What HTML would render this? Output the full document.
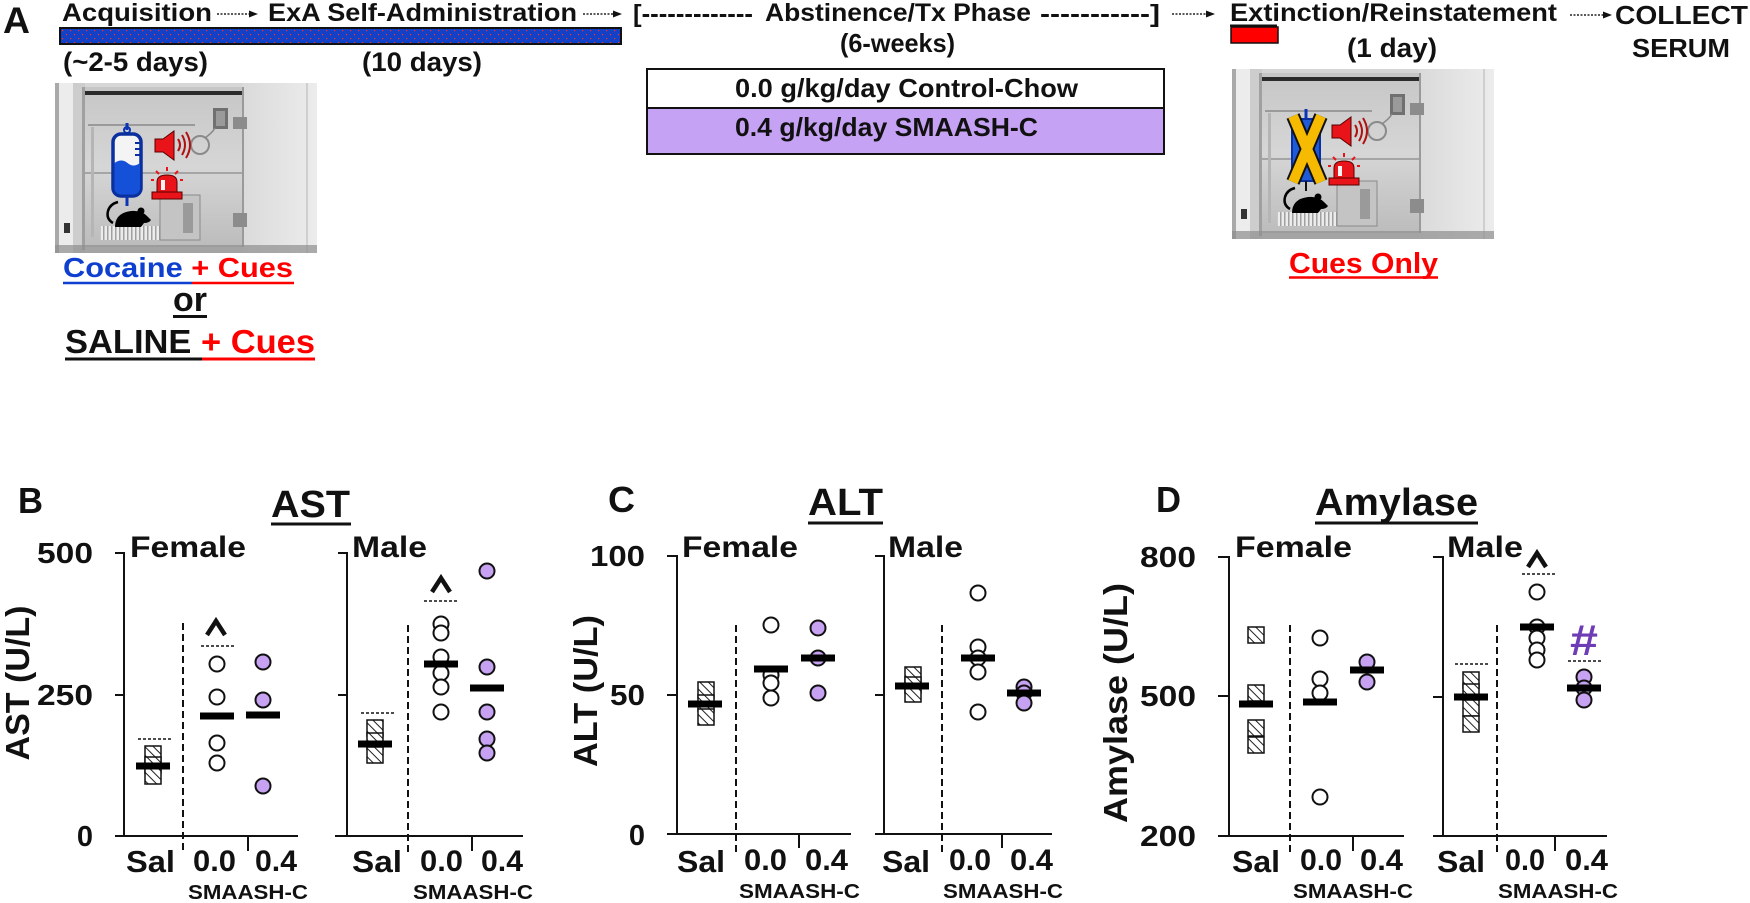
<!DOCTYPE html>
<html><head><meta charset="utf-8">
<style>
html,body{margin:0;padding:0;background:#fff;}
svg{display:block;}
text{font-family:"Liberation Sans",Arial,sans-serif;font-weight:bold;fill:#111;}
.ax{stroke:#111;stroke-width:2;fill:none}
.dv{stroke:#111;stroke-width:2;stroke-dasharray:7,4;fill:none}
.ds{stroke:#111;stroke-width:1.4;stroke-dasharray:3,2;fill:none}
.o{fill:#fff;stroke:#111;stroke-width:2}
.p{fill:#c8a2f2;stroke:#111;stroke-width:2}
.sq{fill:url(#hatch);stroke:#111;stroke-width:1.5}
.car{fill:none;stroke:#111;stroke-width:4.5;stroke-linejoin:miter}
</style></head><body>
<svg width="1750" height="903" viewBox="0 0 1750 903" xmlns="http://www.w3.org/2000/svg">
<defs>
<pattern id="dots" width="8" height="8" patternUnits="userSpaceOnUse">
<rect width="8" height="8" fill="#1440c6"/>
<rect x="2" y="2" width="1.2" height="1.2" fill="#ff3030"/>
<rect x="6" y="6" width="1.2" height="1.2" fill="#ff3030"/>
</pattern>
<pattern id="hatch" width="6" height="6" patternUnits="userSpaceOnUse" patternTransform="rotate(-45)">
<rect width="6" height="6" fill="#fff"/>
<line x1="0" y1="0" x2="0" y2="6" stroke="#222" stroke-width="2"/>
</pattern>
<pattern id="grid" width="4" height="14" patternUnits="userSpaceOnUse">
<rect width="4" height="14" fill="#ececec"/>
<rect width="1.5" height="14" fill="#a0a0a0"/>
</pattern>
<linearGradient id="intg" x1="0" y1="0" x2="0" y2="1">
<stop offset="0" stop-color="#c6c6c6"/>
<stop offset="0.5" stop-color="#d6d6d6"/>
<stop offset="1" stop-color="#bcbcbc"/>
</linearGradient>
<linearGradient id="doorg" x1="0" y1="0" x2="1" y2="0">
<stop offset="0" stop-color="#dadada"/>
<stop offset="1" stop-color="#ececec"/>
</linearGradient>
<g id="photo">
<rect x="0" y="0" width="262" height="170" fill="#d6d6d6"/>
<rect x="0" y="0" width="4" height="170" fill="#a9a9a9"/>
<rect x="4" y="0" width="14" height="170" fill="#ececec"/>
<rect x="18" y="0" width="12" height="170" fill="#cdcdcd"/>
<rect x="27" y="4" width="3" height="163" fill="#a0a0a0"/>
<rect x="30" y="4" width="157" height="160" fill="url(#intg)"/>
<rect x="30" y="8" width="157" height="4" fill="#2b2b2b"/>
<rect x="187" y="0" width="75" height="170" fill="url(#doorg)"/>
<rect x="187" y="4" width="2" height="160" fill="#9a9a9a"/>
<rect x="251" y="0" width="2" height="170" fill="#cfcfcf"/>
<rect x="30" y="89" width="157" height="2" fill="#a5a5a5"/>
<line x1="33" y1="42" x2="140" y2="42" stroke="#9a9a9a" stroke-width="2"/>
<rect x="36" y="44" width="3" height="110" fill="#b5b5b5"/>
<rect x="45" y="143" width="80" height="14" fill="url(#grid)"/>
<rect x="105" y="112" width="40" height="45" fill="#c4c4c4" stroke="#8a8a8a"/>
<rect x="128" y="120" width="10" height="30" fill="#9a9a9a"/>
<rect x="158" y="25" width="15" height="21" fill="#707070"/>
<rect x="161" y="28" width="9" height="15" fill="#9a9a9a"/>
<rect x="178" y="34" width="14" height="12" fill="#8c8c8c"/>
<rect x="178" y="130" width="14" height="14" fill="#8c8c8c"/>
<circle cx="145" cy="62" r="9" fill="none" stroke="#8a8a8a" stroke-width="2"/>
<path d="M150,55 q8,-6 10,-10" stroke="#8a8a8a" stroke-width="1.5" fill="none"/>
<rect x="9" y="140" width="6" height="10" fill="#333"/>
<rect x="0" y="162" width="262" height="8" fill="#8f8f8f" opacity="0.7"/>
<path d="M100,56 h8 l11,-8 v29 l-11,-8 h-8 z" fill="#e8141a" stroke="#5a0000" stroke-width="1"/>
<path d="M123,56 q4,6 0,12 M127,52 q6,10 0,20 M131,49 q8,13 0,26" stroke="#b01010" stroke-width="2" fill="none"/>
<rect x="97" y="109" width="30" height="7" fill="#e8141a" stroke="#5a0000"/>
<path d="M102,109 v-10 q0,-7 10,-7 q10,0 10,7 v10 z" fill="#e8141a" stroke="#5a0000"/>
<rect x="106" y="97" width="4" height="10" fill="#f4f4f4"/>
<path d="M112,84 v4 M101,88 l3,3 M123,88 l-3,3 M96,97 h3 M128,97 h-3" stroke="#e8141a" stroke-width="2"/>
<path d="M58,140 q-7,-4 -5,-12 q2,-7 10,-9" stroke="#000" stroke-width="2.5" fill="none"/>
<path d="M60,144 q0,-14 16,-16 q10,-1 16,5 l4,4 q-2,3 -7,3 l-3,4 h-26 z" fill="#000"/>
<circle cx="86" cy="128" r="3.5" fill="#000"/>
</g>
</defs>

<!-- ===== Panel A ===== -->
<text x="3" y="33" font-size="37" textLength="27" lengthAdjust="spacingAndGlyphs">A</text>
<text x="62" y="21" font-size="25" textLength="150" lengthAdjust="spacingAndGlyphs">Acquisition</text>
<line x1="217" y1="14" x2="250" y2="14" stroke="#222" stroke-width="1.5" stroke-dasharray="2,1.5"/>
<polygon points="249,10.5 258,14 249,17.5" fill="#111"/>
<text x="268" y="21" font-size="25" textLength="309" lengthAdjust="spacingAndGlyphs">ExA Self-Administration</text>
<line x1="583" y1="14" x2="614" y2="14" stroke="#222" stroke-width="1.5" stroke-dasharray="2,1.5"/>
<polygon points="613,10.5 622,14 613,17.5" fill="#111"/>
<rect x="60" y="28" width="561" height="16" fill="url(#dots)" stroke="#111" stroke-width="2"/>
<text x="63" y="71" font-size="27" textLength="145" lengthAdjust="spacingAndGlyphs">(~2-5 days)</text>
<text x="362" y="71" font-size="27" textLength="120" lengthAdjust="spacingAndGlyphs">(10 days)</text>

<text x="633" y="22" font-size="25" textLength="120" lengthAdjust="spacingAndGlyphs">[-------------</text>
<text x="765" y="21" font-size="25" textLength="266" lengthAdjust="spacingAndGlyphs">Abstinence/Tx Phase</text>
<text x="1040" y="22" font-size="25" textLength="120" lengthAdjust="spacingAndGlyphs">-----------]</text>
<text x="840" y="52" font-size="26" textLength="115" lengthAdjust="spacingAndGlyphs">(6-weeks)</text>
<rect x="647" y="69" width="517" height="39" fill="#fff" stroke="#111" stroke-width="2"/>
<rect x="647" y="108" width="517" height="46" fill="#c6a2f4" stroke="#111" stroke-width="2"/>
<text x="735" y="97" font-size="26" textLength="343" lengthAdjust="spacingAndGlyphs">0.0 g/kg/day Control-Chow</text>
<text x="735" y="136" font-size="26" textLength="303" lengthAdjust="spacingAndGlyphs">0.4 g/kg/day SMAASH-C</text>

<line x1="1172" y1="14" x2="1207" y2="14" stroke="#222" stroke-width="1.5" stroke-dasharray="2,1.5"/>
<polygon points="1206,10.5 1215,14 1206,17.5" fill="#111"/>
<text x="1230" y="21" font-size="25" textLength="327" lengthAdjust="spacingAndGlyphs">Extinction/Reinstatement</text>
<line x1="1230" y1="25.5" x2="1277" y2="25.5" stroke="#111" stroke-width="2"/>
<rect x="1231" y="27" width="47" height="16" fill="#f00" stroke="#111" stroke-width="1.5"/>
<text x="1347" y="57" font-size="27" textLength="90" lengthAdjust="spacingAndGlyphs">(1 day)</text>
<line x1="1570" y1="15" x2="1604" y2="15" stroke="#222" stroke-width="1.5" stroke-dasharray="2,1.5"/>
<polygon points="1603,11.5 1612,15 1603,18.5" fill="#111"/>
<text x="1615" y="24" font-size="26" textLength="133" lengthAdjust="spacingAndGlyphs">COLLECT</text>
<text x="1632" y="57" font-size="26" textLength="98" lengthAdjust="spacingAndGlyphs">SERUM</text>

<!-- photo 1 -->
<g transform="translate(55,83)">
<use href="#photo"/>
<line x1="72" y1="40" x2="72" y2="47" stroke="#0b35b5" stroke-width="3"/>
<circle cx="72" cy="47" r="3" fill="none" stroke="#0b35b5" stroke-width="2"/>
<rect x="58" y="51" width="28" height="62" rx="8" fill="#f4f4f4" stroke="#0a2f9e" stroke-width="3.5"/>
<path d="M59.5,80 q7,-5 13,0 t12.5,0 v24 q0,7.5 -7.5,7.5 h-10.5 q-7.5,0 -7.5,-7.5 z" fill="#1550d8"/>
<path d="M80,60h6M80,66h6M80,72h6" stroke="#0a2f9e" stroke-width="2"/>
<line x1="72" y1="113" x2="72" y2="123" stroke="#0b35b5" stroke-width="3"/>
</g>
<text x="63" y="277" font-size="28" textLength="230" lengthAdjust="spacingAndGlyphs"><tspan fill="#0f3fcf">Cocaine</tspan><tspan fill="#f00"> + Cues</tspan></text>
<line x1="63" y1="283" x2="192" y2="283" stroke="#0f3fcf" stroke-width="2.5"/>
<line x1="192" y1="283" x2="294" y2="283" stroke="#f00" stroke-width="2.5"/>
<text x="173" y="311" font-size="34" textLength="34" lengthAdjust="spacingAndGlyphs">or</text>
<line x1="173" y1="316.5" x2="207" y2="316.5" stroke="#111" stroke-width="3"/>
<text x="65" y="353" font-size="33" textLength="250" lengthAdjust="spacingAndGlyphs"><tspan fill="#111">SALINE</tspan><tspan fill="#f00"> + Cues</tspan></text>
<line x1="65" y1="359" x2="202" y2="359" stroke="#111" stroke-width="3"/>
<line x1="202" y1="359" x2="315" y2="359" stroke="#f00" stroke-width="3"/>

<!-- photo 2 -->
<g transform="translate(1232,69)">
<use href="#photo"/>
<line x1="74" y1="40" x2="74" y2="50" stroke="#0b35b5" stroke-width="3"/>
<rect x="60" y="50" width="28" height="62" rx="6" fill="#1f5ad8" stroke="#0a2f9e" stroke-width="2"/>
<line x1="74" y1="112" x2="74" y2="122" stroke="#111" stroke-width="2"/>
<path d="M61,47 L89,113 M89,47 L61,113" stroke="#111" stroke-width="14"/>
<path d="M61,47 L89,113 M89,47 L61,113" stroke="#f6bb00" stroke-width="10"/>
</g>
<text x="1289" y="273" font-size="29" textLength="149" lengthAdjust="spacingAndGlyphs" style="fill:#f00">Cues Only</text>
<line x1="1289" y1="277.5" x2="1438" y2="277.5" stroke="#f00" stroke-width="2.5"/>

<!-- ===== Panel B : AST ===== -->
<text x="18" y="513" font-size="36" textLength="25" lengthAdjust="spacingAndGlyphs">B</text>
<text x="271" y="517" font-size="38" textLength="79" lengthAdjust="spacingAndGlyphs">AST</text>
<line x1="271" y1="524" x2="351" y2="524" stroke="#111" stroke-width="3"/>
<text x="130" y="557" font-size="30" textLength="116" lengthAdjust="spacingAndGlyphs">Female</text>
<text x="352" y="557" font-size="30" textLength="75" lengthAdjust="spacingAndGlyphs">Male</text>
<text transform="translate(29,683) rotate(-90)" text-anchor="middle" font-size="33" textLength="155" lengthAdjust="spacingAndGlyphs">AST (U/L)</text>
<text x="93" y="563" font-size="29" text-anchor="end" textLength="56" lengthAdjust="spacingAndGlyphs">500</text>
<text x="93" y="705" font-size="29" text-anchor="end" textLength="56" lengthAdjust="spacingAndGlyphs">250</text>
<text x="93" y="846" font-size="29" text-anchor="end">0</text>
<path class="ax" d="M115,553 H124 V836 M115,695 H124 M115,836 H298 M248,836 V851"/>
<line class="dv" x1="183" y1="623" x2="183" y2="853"/>
<path class="ax" d="M338,553 H347 V836 M338,695 H347 M335,836 H523 M472,836 V851"/>
<line class="dv" x1="408" y1="625" x2="408" y2="853"/>
<!-- female B -->
<rect class="sq" x="145" y="746" width="16" height="16"/>
<rect class="sq" x="145" y="757" width="16" height="16"/>
<rect class="sq" x="145" y="768" width="16" height="16"/>
<rect x="136" y="762.5" width="34" height="7"/>
<line class="ds" x1="138" y1="739" x2="172" y2="739"/>
<circle class="o" cx="217" cy="664" r="7.5"/><circle class="o" cx="217" cy="697" r="7.5"/><circle class="o" cx="217" cy="743" r="7.5"/><circle class="o" cx="217" cy="763" r="7.5"/>
<rect x="200" y="712.5" width="34" height="7"/>
<line class="ds" x1="201" y1="646" x2="234" y2="646"/>
<polyline class="car" points="207,635 216,621 225,635"/>
<circle class="p" cx="263" cy="662" r="7.5"/><circle class="p" cx="263" cy="700" r="7.5"/><circle class="p" cx="263" cy="786" r="7.5"/>
<rect x="246" y="711.5" width="34" height="7"/>
<!-- male B -->
<rect class="sq" x="367" y="720" width="16" height="16"/>
<rect class="sq" x="367" y="733" width="16" height="16"/>
<rect class="sq" x="367" y="747" width="16" height="16"/>
<rect x="358" y="740.5" width="34" height="7"/>
<line class="ds" x1="361" y1="713" x2="394" y2="713"/>
<circle class="o" cx="441" cy="624" r="7.5"/><circle class="o" cx="441" cy="633" r="7.5"/><circle class="o" cx="441" cy="657" r="7.5"/><circle class="o" cx="441" cy="673" r="7.5"/><circle class="o" cx="441" cy="687" r="7.5"/><circle class="o" cx="441" cy="712" r="7.5"/>
<rect x="424" y="660.5" width="34" height="7"/>
<line class="ds" x1="424" y1="601" x2="458" y2="601"/>
<polyline class="car" points="432,592 441,578 450,592"/>
<circle class="p" cx="487" cy="571" r="7.5"/><circle class="p" cx="487" cy="667" r="7.5"/><circle class="p" cx="487" cy="712" r="7.5"/><circle class="p" cx="487" cy="739" r="7.5"/><circle class="p" cx="487" cy="753" r="7.5"/>
<rect x="470" y="684.5" width="34" height="7"/>
<text x="126" y="872" font-size="31" textLength="49" lengthAdjust="spacingAndGlyphs">Sal</text>
<text x="193" y="871" font-size="30" textLength="43" lengthAdjust="spacingAndGlyphs">0.0</text>
<text x="255" y="871" font-size="30" textLength="42" lengthAdjust="spacingAndGlyphs">0.4</text>
<text x="188" y="899" font-size="20" textLength="120" lengthAdjust="spacingAndGlyphs">SMAASH-C</text>
<text x="352" y="872" font-size="31" textLength="50" lengthAdjust="spacingAndGlyphs">Sal</text>
<text x="420" y="871" font-size="30" textLength="43" lengthAdjust="spacingAndGlyphs">0.0</text>
<text x="481" y="871" font-size="30" textLength="42" lengthAdjust="spacingAndGlyphs">0.4</text>
<text x="413" y="899" font-size="20" textLength="120" lengthAdjust="spacingAndGlyphs">SMAASH-C</text>

<!-- ===== Panel C : ALT ===== -->
<text x="608" y="512" font-size="36" textLength="27" lengthAdjust="spacingAndGlyphs">C</text>
<text x="808" y="515" font-size="38" textLength="75" lengthAdjust="spacingAndGlyphs">ALT</text>
<line x1="808" y1="523" x2="883" y2="523" stroke="#111" stroke-width="3"/>
<text x="682" y="557" font-size="30" textLength="116" lengthAdjust="spacingAndGlyphs">Female</text>
<text x="888" y="557" font-size="30" textLength="75" lengthAdjust="spacingAndGlyphs">Male</text>
<text transform="translate(597,691) rotate(-90)" text-anchor="middle" font-size="33" textLength="152" lengthAdjust="spacingAndGlyphs">ALT (U/L)</text>
<text x="645" y="566" font-size="29" text-anchor="end" textLength="55" lengthAdjust="spacingAndGlyphs">100</text>
<text x="645" y="705" font-size="29" text-anchor="end" textLength="35" lengthAdjust="spacingAndGlyphs">50</text>
<text x="645" y="845" font-size="29" text-anchor="end">0</text>
<path class="ax" d="M667,556 H677 V834 M667,695 H677 M667,834 H851 M799,834 V848"/>
<line class="dv" x1="736" y1="625" x2="736" y2="853"/>
<path class="ax" d="M875,556 H884 V834 M875,695 H884 M875,834 H1052 M1002,834 V848"/>
<line class="dv" x1="942" y1="625" x2="942" y2="853"/>
<rect class="sq" x="698" y="682" width="16" height="16"/>
<rect class="sq" x="698" y="695" width="16" height="16"/>
<rect class="sq" x="698" y="709" width="16" height="16"/>
<rect x="688" y="700.5" width="34" height="7"/>
<circle class="o" cx="771" cy="625" r="7.5"/><circle class="o" cx="771" cy="675" r="7.5"/><circle class="o" cx="771" cy="683" r="7.5"/><circle class="o" cx="771" cy="698" r="7.5"/>
<rect x="754" y="665.5" width="34" height="7"/>
<circle class="p" cx="818" cy="628" r="7.5"/><circle class="p" cx="818" cy="658" r="7.5"/><circle class="p" cx="818" cy="693" r="7.5"/>
<rect x="801" y="654.5" width="34" height="7"/>
<rect class="sq" x="905" y="667" width="16" height="16"/>
<rect class="sq" x="905" y="677" width="16" height="16"/>
<rect class="sq" x="905" y="686" width="16" height="16"/>
<rect x="895" y="682.5" width="34" height="7"/>
<circle class="o" cx="978" cy="593" r="7.5"/><circle class="o" cx="978" cy="647" r="7.5"/><circle class="o" cx="978" cy="658" r="7.5"/><circle class="o" cx="978" cy="672" r="7.5"/><circle class="o" cx="978" cy="712" r="7.5"/>
<rect x="961" y="654.5" width="34" height="7"/>
<circle class="p" cx="1024" cy="687" r="7.5"/><circle class="p" cx="1024" cy="693" r="7.5"/><circle class="p" cx="1024" cy="703" r="7.5"/>
<rect x="1007" y="689.5" width="34" height="7"/>
<text x="677" y="872" font-size="31" textLength="48" lengthAdjust="spacingAndGlyphs">Sal</text>
<text x="744" y="870" font-size="30" textLength="43" lengthAdjust="spacingAndGlyphs">0.0</text>
<text x="805" y="870" font-size="30" textLength="43" lengthAdjust="spacingAndGlyphs">0.4</text>
<text x="739" y="898" font-size="20" textLength="121" lengthAdjust="spacingAndGlyphs">SMAASH-C</text>
<text x="882" y="872" font-size="31" textLength="48" lengthAdjust="spacingAndGlyphs">Sal</text>
<text x="949" y="870" font-size="30" textLength="42" lengthAdjust="spacingAndGlyphs">0.0</text>
<text x="1010" y="870" font-size="30" textLength="43" lengthAdjust="spacingAndGlyphs">0.4</text>
<text x="943" y="898" font-size="20" textLength="120" lengthAdjust="spacingAndGlyphs">SMAASH-C</text>

<!-- ===== Panel D : Amylase ===== -->
<text x="1156" y="512" font-size="36" textLength="25" lengthAdjust="spacingAndGlyphs">D</text>
<text x="1315" y="515" font-size="38" textLength="163" lengthAdjust="spacingAndGlyphs">Amylase</text>
<line x1="1315" y1="523" x2="1478" y2="523" stroke="#111" stroke-width="3"/>
<text x="1235" y="557" font-size="30" textLength="117" lengthAdjust="spacingAndGlyphs">Female</text>
<text x="1447" y="557" font-size="30" textLength="76" lengthAdjust="spacingAndGlyphs">Male</text>
<text transform="translate(1127,703) rotate(-90)" text-anchor="middle" font-size="33" textLength="240" lengthAdjust="spacingAndGlyphs">Amylase (U/L)</text>
<text x="1196" y="567" font-size="29" text-anchor="end" textLength="56" lengthAdjust="spacingAndGlyphs">800</text>
<text x="1196" y="706" font-size="29" text-anchor="end" textLength="56" lengthAdjust="spacingAndGlyphs">500</text>
<text x="1196" y="846" font-size="29" text-anchor="end" textLength="56" lengthAdjust="spacingAndGlyphs">200</text>
<path class="ax" d="M1218,557 H1229 V836 M1218,696 H1229 M1218,836 H1404 M1353,836 V851"/>
<line class="dv" x1="1290" y1="625" x2="1290" y2="853"/>
<path class="ax" d="M1433,557 H1443 V836 M1433,697 H1443 M1433,836 H1607 M1555,836 V851"/>
<line class="dv" x1="1497" y1="625" x2="1497" y2="853"/>
<rect class="sq" x="1248" y="627" width="16" height="16"/>
<rect class="sq" x="1248" y="685" width="16" height="16"/>
<rect class="sq" x="1248" y="720" width="16" height="16"/>
<rect class="sq" x="1248" y="737" width="16" height="16"/>
<rect x="1239" y="700.5" width="34" height="7"/>
<circle class="o" cx="1320" cy="638" r="7.5"/><circle class="o" cx="1320" cy="679" r="7.5"/><circle class="o" cx="1320" cy="693" r="7.5"/><circle class="o" cx="1320" cy="797" r="7.5"/>
<rect x="1303" y="698.5" width="34" height="7"/>
<circle class="p" cx="1367" cy="662" r="7.5"/><circle class="p" cx="1367" cy="682" r="7.5"/>
<rect x="1350" y="666.5" width="34" height="7"/>
<rect class="sq" x="1463" y="672" width="16" height="16"/>
<rect class="sq" x="1463" y="684" width="16" height="16"/>
<rect class="sq" x="1463" y="700" width="16" height="16"/>
<rect class="sq" x="1463" y="716" width="16" height="16"/>
<rect x="1454" y="693.5" width="34" height="7"/>
<line class="ds" x1="1455" y1="664" x2="1489" y2="664"/>
<circle class="o" cx="1537" cy="592" r="7.5"/><circle class="o" cx="1537" cy="627" r="7.5"/><circle class="o" cx="1537" cy="638" r="7.5"/><circle class="o" cx="1537" cy="650" r="7.5"/><circle class="o" cx="1537" cy="660" r="7.5"/>
<rect x="1520" y="623.5" width="34" height="7"/>
<line class="ds" x1="1522" y1="574" x2="1556" y2="574"/>
<polyline class="car" points="1528,567 1537,553 1546,567"/>
<circle class="p" cx="1584" cy="677" r="7.5"/><circle class="p" cx="1584" cy="688" r="7.5"/><circle class="p" cx="1584" cy="700" r="7.5"/>
<rect x="1567" y="684.5" width="34" height="7"/>
<line class="ds" x1="1568" y1="661" x2="1601" y2="661"/>
<text x="1570" y="655" font-size="44" textLength="28" lengthAdjust="spacingAndGlyphs" style="fill:#6e3cb4">#</text>
<text x="1232" y="872" font-size="31" textLength="48" lengthAdjust="spacingAndGlyphs">Sal</text>
<text x="1300" y="870" font-size="30" textLength="42" lengthAdjust="spacingAndGlyphs">0.0</text>
<text x="1360" y="870" font-size="30" textLength="43" lengthAdjust="spacingAndGlyphs">0.4</text>
<text x="1293" y="898" font-size="20" textLength="120" lengthAdjust="spacingAndGlyphs">SMAASH-C</text>
<text x="1437" y="872" font-size="31" textLength="48" lengthAdjust="spacingAndGlyphs">Sal</text>
<text x="1505" y="870" font-size="30" textLength="40" lengthAdjust="spacingAndGlyphs">0.0</text>
<text x="1565" y="870" font-size="30" textLength="43" lengthAdjust="spacingAndGlyphs">0.4</text>
<text x="1498" y="898" font-size="20" textLength="120" lengthAdjust="spacingAndGlyphs">SMAASH-C</text>
</svg>
</body></html>
